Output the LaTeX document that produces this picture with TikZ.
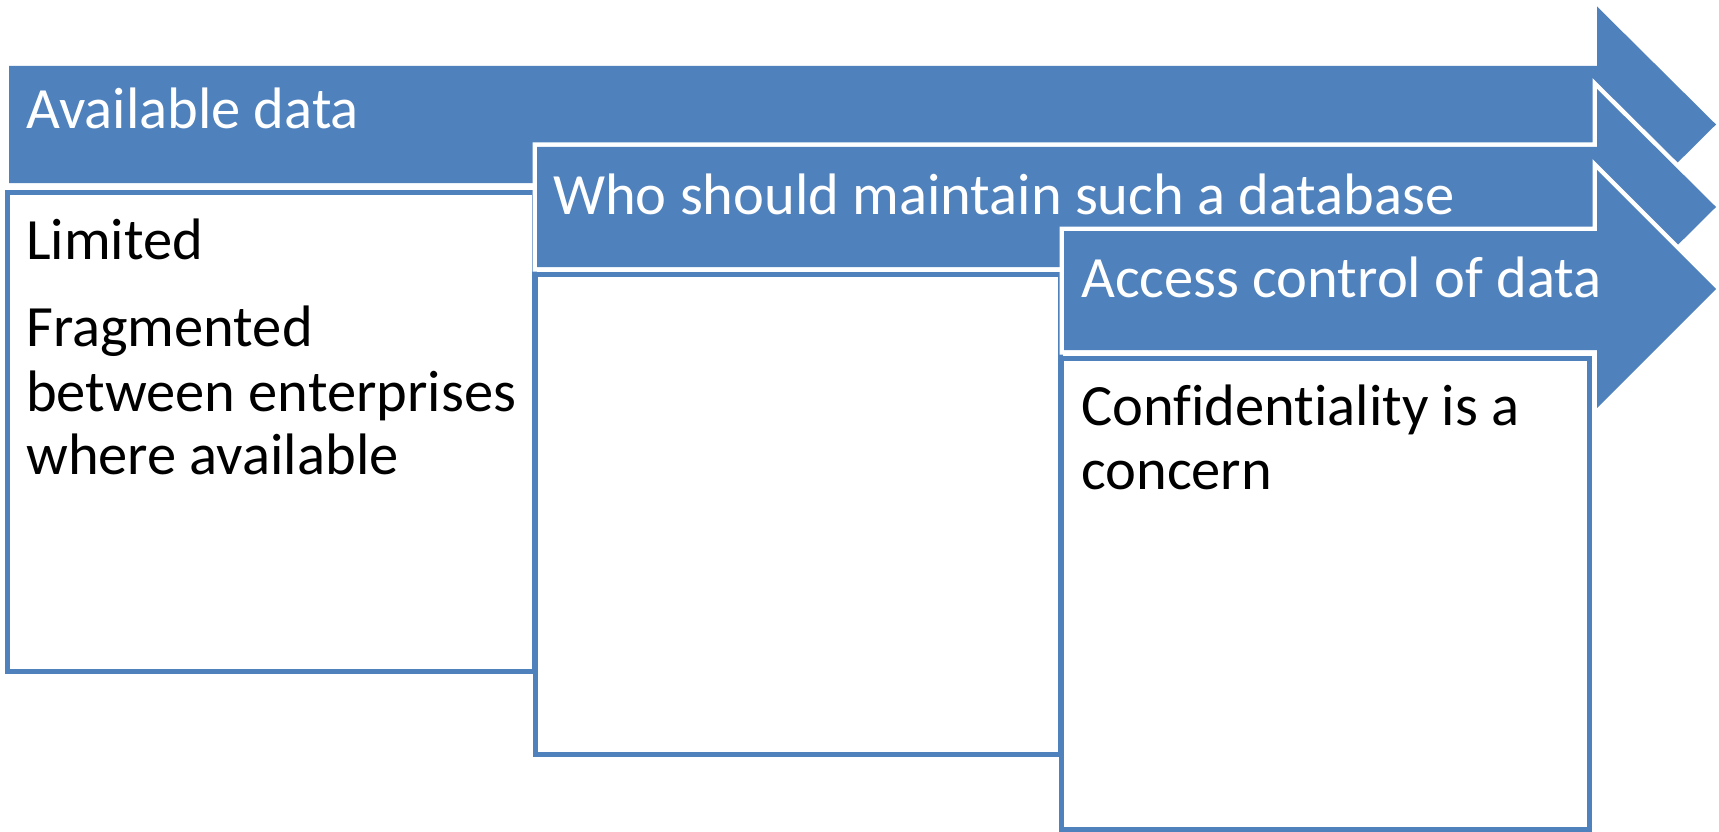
\documentclass[tikz,border=0pt]{standalone}
\usepackage{fontspec}
\setmainfont{Carlito}[Ligatures=CommonOff]
\definecolor{accent}{HTML}{4F81BD}
\begin{document}
\begin{tikzpicture}[x=1pt,y=-1pt,
  arrowshape/.style={fill=accent, preaction={draw=white, line width=9pt, line join=miter}},
  boxshape/.style={fill=white, draw=accent, line width=5pt},
  headtext/.style={text=white, anchor=base west, inner sep=0pt, font=\fontsize{58.5}{64}\selectfont},
  bodytext/.style={text=black, anchor=base west, inner sep=0pt, font=\fontsize{58.5}{64}\selectfont}]
\useasboundingbox (0,0) rectangle (1719,832);
% stage 1
\path[arrowshape] (9,66) -- (1597,66) -- (1597,6.5) -- (1716,124.5) -- (1597,242.5) -- (1597,183) -- (9,183) -- cycle;
\draw[boxshape] (7.5,192) rectangle (534,671);
% stage 2
\path[arrowshape] (537,147) -- (1597,147) -- (1597,89) -- (1716,207) -- (1597,325) -- (1597,267) -- (537,267) -- cycle;
\draw[boxshape] (535,274) rectangle (1060,754);
% stage 3
\path[arrowshape] (1064,231) -- (1597,231) -- (1597,170) -- (1716,289) -- (1597,408) -- (1597,350) -- (1064,350) -- cycle;
\draw[boxshape] (1061,358) rectangle (1589,829.5);
% texts
\node[headtext] (h1) at (26,129) {Available data};
\node[headtext] (h2) at (553,214) {Who should maintain such a database};
\node[headtext] (h3) at (1081,297) {Access control of data};
\node[bodytext] (b1a) at (26,259) {Limited};
\node[bodytext] (b1b) at (26,346) {Fragmented};
\node[bodytext] (b1c) at (26,411) {between enterprises};
\node[bodytext] (b1d) at (26,474) {where available};
\node[bodytext] (b3a) at (1081,425) {Confidentiality is a};
\node[bodytext] (b3b) at (1081,489) {concern};
\end{tikzpicture}
\end{document}
